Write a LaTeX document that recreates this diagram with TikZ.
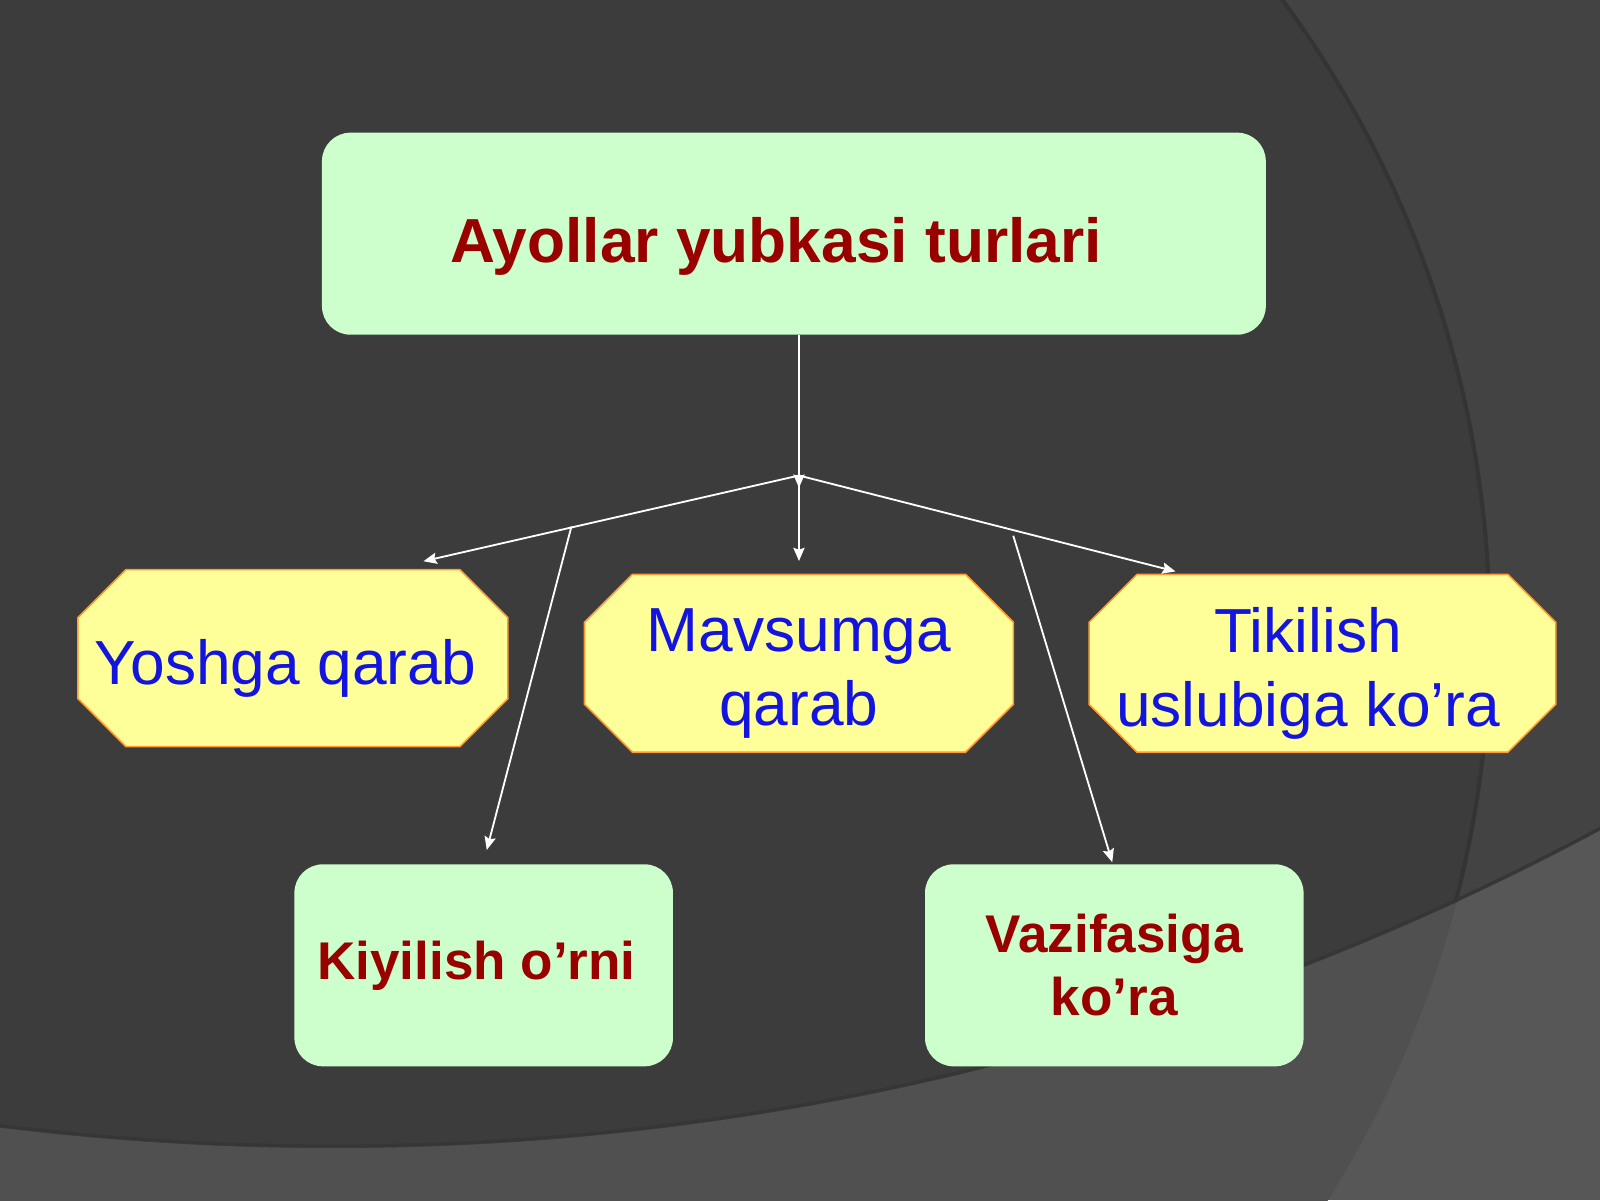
\documentclass[tikz,border=0pt]{standalone}
\usepackage{fontspec}
\setmainfont{Liberation Sans}
\usetikzlibrary{arrows.meta}

\definecolor{bgdark}{HTML}{3C3C3C}
\definecolor{bgouter}{HTML}{434343}
\definecolor{bgshade}{HTML}{343434}
\definecolor{bgband}{HTML}{505050}
\definecolor{bgbandouter}{HTML}{575757}
\definecolor{boxgreen}{HTML}{CCFFCC}
\definecolor{boxyellow}{HTML}{FFFF99}
\definecolor{boxedge}{HTML}{FF9933}
\definecolor{titlered}{HTML}{990000}
\definecolor{textblue}{HTML}{1414E0}

\pgfdeclarelayer{scene}
\pgfdeclarelayer{panel}
\pgfsetlayers{scene,panel,main}

\begin{document}
\begin{tikzpicture}[%
		x=1pt,
		y=-1pt,
		link/.style={%
			draw=white,
			line width=1.8pt,
			-{Stealth[length=13pt,width=11pt,inset=2pt]}
		},
		greenbox/.style={%
			fill=boxgreen,
			rounded corners=28pt,
			inner sep=0pt,
			align=center,
			text=titlered,
			font=\bfseries\fontsize{52}{62}\selectfont
		},
		yellowbox/.style={%
			rectangle,
			inner sep=0pt
		},
		bluetext/.style={%
			align=center,
			text=textblue,
			font=\fontsize{61}{73}\selectfont,
			yshift=-10pt
		},
		octagon/.style={%
			fill=boxyellow,
			draw=boxedge,
			line width=1.5pt
		}
		]
		% background
		\useasboundingbox (0,0) rectangle (1568,1176);
		\begin{pgfonlayer}{scene}
			\clip (0,0) rectangle (1568,1176);
			\fill[bgbandouter] (0,0) rectangle (1568,1176);
			\fill[bgband] (413,620) circle[radius=1048pt];
			\begin{scope}
				\clip (326,-1506) circle[radius=2631pt];
				\fill[bgouter] (0,0) rectangle (1568,1176);
				\fill[bgdark] (413,620) circle[radius=1048pt];
				\draw[bgshade, line width=4pt] (413,620) circle[radius=1047pt];
				\draw[bgshade!70!bgdark, line width=3pt] (326,-1506) circle[radius=2629pt];
			\end{scope}
		\end{pgfonlayer}
		
		\node[greenbox, minimum width=925pt, minimum height=198pt, text height=69pt, text depth=13pt,
			font=\bfseries\fontsize{61}{70}\selectfont] (top) at (778,229) {Ayollar yubkasi turlari\hspace*{35pt}};
		\node[yellowbox, minimum width=421pt, minimum height=173pt,
			label={[bluetext, xshift=-7pt]center:Yoshga qarab}] (yosh) at (287,645) {};
		\node[yellowbox, minimum width=420pt, minimum height=174pt,
			label={[bluetext]center:{Mavsumga\\qarab}}] (mavs) at (783,650) {};
		\node[yellowbox, minimum width=457pt, minimum height=174pt,
			label={[bluetext, xshift=-14pt]center:{Tikilish\\uslubiga ko’ra}}] (tikil) at (1296,650) {};
		\node[greenbox, minimum width=371pt, minimum height=198pt] (kiyil) at (474,946) {Kiyilish o’rni\hspace*{14pt}};
		\node[greenbox, minimum width=371pt, minimum height=198pt] (vazif) at (1092,946) {Vazifasiga\\ko’ra};
		
		\begin{pgfonlayer}{panel}
			\foreach \n in {yosh,mavs,tikil}
			\draw[octagon] ([xshift=47pt]\n.north west) -- ([xshift=-47pt]\n.north east)
				-- ([yshift=-47pt]\n.north east) -- ([yshift=47pt]\n.south east)
				-- ([xshift=-47pt]\n.south east) -- ([xshift=47pt]\n.south west)
				-- ([yshift=47pt]\n.south west) -- ([yshift=-47pt]\n.north west) -- cycle;
		\end{pgfonlayer}
		
		\coordinate (hub)       at (783,466);
		\coordinate (hubtip)    at (783,478);
		\coordinate (yoshtip)   at (415,550);
		\coordinate (tikiltip)  at (1152,560);
		\coordinate (kiyilfork) at (560,516);
		\coordinate (kiyiltip)  at (477,833);
		\coordinate (vaziffork) at (993,525);
		\coordinate (vaziftip)  at (1090,845);
		
		\draw[link] (top.south -| hub) -- (hubtip);
		\draw[link] (hub) -- (yoshtip);
		\draw[link, shorten >=13pt] (hub) -- (mavs.north);
		\draw[link] (hub) -- (tikiltip);
		\draw[link] (kiyilfork) -- (kiyiltip);
		\draw[link] (vaziffork) -- (vaziftip);
		\end{tikzpicture}
\end{document}
